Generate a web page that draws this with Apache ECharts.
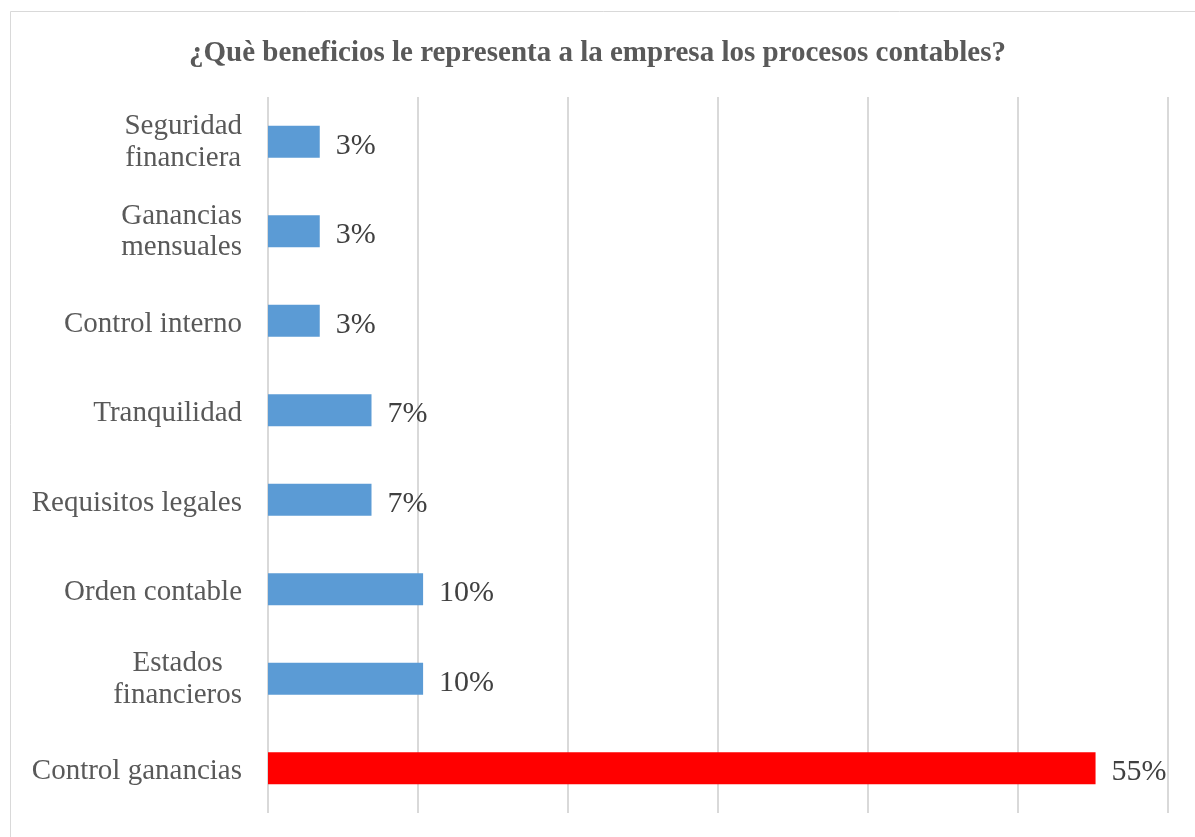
<!DOCTYPE html>
<html>
<head>
<meta charset="utf-8">
<script src="https://cdn.jsdelivr.net/npm/echarts@6/dist/echarts.min.js"></script>
<style>html,body{margin:0;padding:0;background:#fff;}#c{width:1195px;height:837px;}</style>
</head>
<body>
<div id="c"></div>
<script>
const titleText = '¿Què beneficios le representa a la empresa los procesos contables?';
const categories = ['Control ganancias', 'Estados\nfinancieros', 'Orden contable', 'Requisitos legales', 'Tranquilidad', 'Control interno', 'Ganancias\nmensuales', 'Seguridad\nfinanciera'];
const values = [55.17, 10.34, 10.34, 6.9, 6.9, 3.45, 3.45, 3.45];
const valueLabels = ['55%', '10%', '10%', '7%', '7%', '3%', '3%', '3%'];
const barColors = ['#FF0000', '#5B9BD5', '#5B9BD5', '#5B9BD5', '#5B9BD5', '#5B9BD5', '#5B9BD5', '#5B9BD5'];

const chart = echarts.init(document.getElementById('c'), null, {renderer: 'canvas'});
const font = '"Liberation Serif", "Times New Roman", serif';
const catText = {fontFamily: font, fontSize: 29, color: '#595959', lineHeight: 33, align: 'center'};
chart.setOption({
  backgroundColor: '#fff',
  animation: false,
  graphic: [{
    type: 'rect', shape: {x: 10.5, y: 11.5, width: 1200, height: 840},
    style: {fill: 'none', stroke: '#d9d9d9', lineWidth: 1}, silent: true, z: -10
  }],
  title: {
    text: titleText, left: 'center', top: 34,
    textStyle: {fontFamily: font, fontSize: 29, fontWeight: 'bold', color: '#595959'}
  },
  grid: {left: 268, right: 27, top: 97, bottom: 24, containLabel: false},
  xAxis: {
    type: 'value', min: 0, max: 60, interval: 10,
    axisLabel: {show: false}, axisLine: {show: false}, axisTick: {show: false},
    splitLine: {show: true, lineStyle: {color: '#d9d9d9', width: 2}}
  },
  yAxis: {
    type: 'category', data: categories,
    axisLine: {show: false}, axisTick: {show: false},
    axisLabel: Object.assign({}, catText, {
      align: 'right',
      margin: 26,
      formatter: v => {
        const parts = v.split('\n');
        if (parts.length === 1) return '{s|' + parts[0] + '}';
        return parts.map((s, i) => (i === 0 ? '{a|' : '{b|') + s + '}').join('\n');
      },
      rich: {
        s: Object.assign({}, catText, {padding: [7, 0, 0, 0]}),
        a: Object.assign({}, catText, {padding: [3, 0, 0, 0]}),
        b: Object.assign({}, catText)
      }
    })
  },
  series: [{
    type: 'bar', barWidth: 32,
    data: values.map((v, i) => ({value: v, itemStyle: {color: barColors[i]}})),
    label: {
      show: true, position: 'right', distance: 16, offset: [0, 4],
      fontFamily: font, fontSize: 30, color: '#404040',
      formatter: p => valueLabels[p.dataIndex]
    }
  }]
});
</script>
</body>
</html>
